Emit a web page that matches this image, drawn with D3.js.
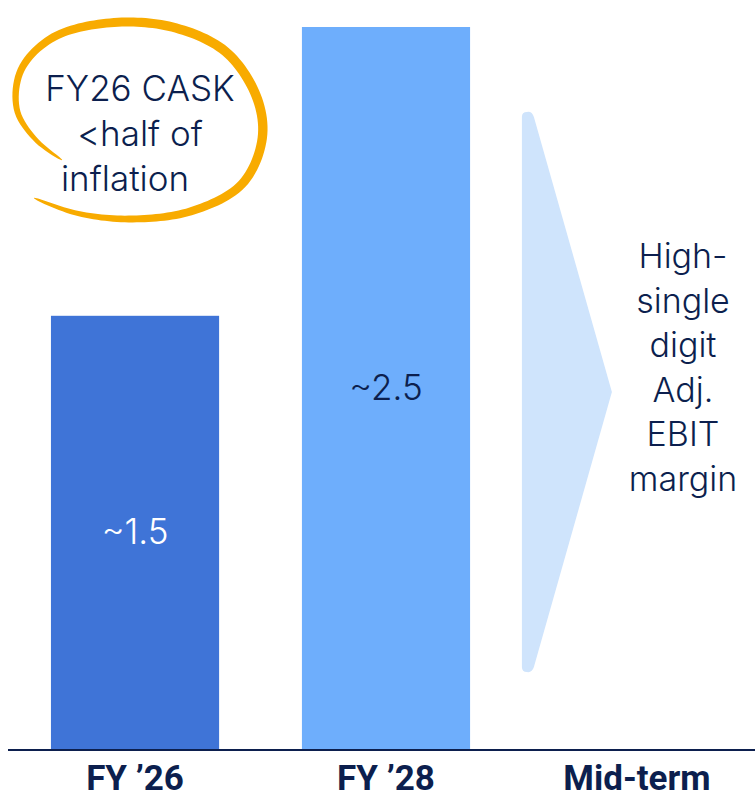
<!DOCTYPE html>
<html>
<head>
<meta charset="utf-8">
<script src="https://cdn.jsdelivr.net/npm/d3@7"></script>
<style>
  body { margin: 0; background: #fff; }
  svg { display: block; }
</style>
</head>
<body>
<svg id="chart" width="755" height="800"></svg>
<script>
// data
var categories = ["FY \u201926", "FY \u201928", "Mid-term"];
var barValues = [1.5, 2.5];
var barLabels = ["~1.5", "~2.5"];
var midTermText = ["High-", "single", "digit", "Adj.", "EBIT", "margin"];
var calloutText = ["FY26 CASK", "<half of", "inflation"];

var svg = d3.select("#chart"),
    baseY = 749;

var x = d3.scaleBand()
    .domain(categories)
    .range([0, 772])
    .paddingInner(0.33)
    .paddingOuter(0.203);

var y = d3.scaleLinear()
    .domain([0, 2.5])
    .range([baseY, 27]);

var barColors = ["#3f74d7", "#6eaefc"];
var labelColors = ["#ffffff", "#0c1f4e"];
var navy = "#0c1f4e";

/* bars */
svg.append("g")
  .selectAll("rect")
  .data(barValues)
  .enter().append("rect")
    .attr("x", function(d, i) { return x(categories[i]); })
    .attr("y", function(d) { return y(d); })
    .attr("width", x.bandwidth())
    .attr("height", function(d) { return baseY - y(d); })
    .attr("fill", function(d, i) { return barColors[i]; });

/* value labels in the bars */
svg.append("g")
  .selectAll("text")
  .data(barValues)
  .enter().append("text")
    .attr("x", function(d, i) { return x(categories[i]) + x.bandwidth() / 2; })
    .attr("y", function(d) { return (y(d) + baseY) / 2 + 12; })
    .attr("text-anchor", "middle")
    .attr("font-family", "Inter, 'Open Sans', sans-serif")
    .attr("font-weight", 300)
    .attr("font-size", 35)
    .attr("fill", function(d, i) { return labelColors[i]; })
    .text(function(d, i) { return barLabels[i]; });

/* mid-term arrow */
var mx = x("Mid-term"),
    aTop = 112, aBot = 672, aMid = (aTop + aBot) / 2,
    aL = mx - 31, aTip = mx + 59;
var r = 5;
var arrowPath = "M" + (aL + r) + "," + aTop +
  " Q" + (aL + 10) + "," + (aTop - 1) + " " + (aL + 12) + "," + (aTop + 5) +
  " L" + aTip + "," + aMid +
  " L" + (aL + 12) + "," + (aBot - 5) +
  " Q" + (aL + 10) + "," + (aBot + 1) + " " + (aL + r) + "," + aBot +
  " Q" + aL + "," + aBot + " " + aL + "," + (aBot - r) +
  " L" + aL + "," + (aTop + r) +
  " Q" + aL + "," + aTop + " " + (aL + r) + "," + aTop + "Z";
svg.append("path")
    .attr("d", arrowPath)
    .attr("fill", "#cfe4fc");

svg.append("g")
  .selectAll("text")
  .data(midTermText)
  .enter().append("text")
    .attr("x", 683)
    .attr("y", function(d, i) { return 268 + i * 44.6; })
    .attr("text-anchor", "middle")
    .attr("font-family", "Inter, 'Open Sans', sans-serif")
    .attr("font-weight", 300)
    .attr("font-size", 34)
    .attr("fill", navy)
    .text(function(d) { return d; });

/* baseline + category labels */
svg.append("line")
    .attr("x1", 8).attr("x2", 755)
    .attr("y1", baseY + 1).attr("y2", baseY + 1)
    .attr("stroke", navy)
    .attr("stroke-width", 2);

svg.append("g")
  .selectAll("text")
  .data(categories)
  .enter().append("text")
    .attr("x", function(d) { return x(d) + x.bandwidth() / 2; })
    .attr("y", 790)
    .attr("text-anchor", "middle")
    .attr("font-family", "Roboto, 'Liberation Sans', sans-serif")
    .attr("font-weight", 700)
    .attr("font-size", 35)
    .attr("fill", navy)
    .text(function(d) { return d; });

/* hand drawn callout circle, built as a filled stroke with tapered ends */
var loopPts = [[62,160],[36,140],[17,110],[21,70],[52,38],[108,23],[172,27],[226,52],
               [257,98],[262,140],[242,184],[192,211],[130,219],[76,213],[34,198]];
var tmp = svg.append("path")
    .attr("d", d3.line().curve(d3.curveCatmullRom.alpha(0.5))(loopPts))
    .attr("fill", "none");
var node = tmp.node(), len = node.getTotalLength(), N = 180,
    left = [], right = [];
for (var k = 0; k <= N; k++) {
  var t = k / N,
      p0 = node.getPointAtLength(Math.max(0, t * len - 0.5)),
      p1 = node.getPointAtLength(Math.min(len, t * len + 0.5)),
      p = node.getPointAtLength(t * len),
      dx = p1.x - p0.x, dy = p1.y - p0.y, dl = Math.sqrt(dx * dx + dy * dy) || 1,
      w = 4.4 * Math.pow(Math.sin(Math.PI * t), 0.45) + 0.4;
  left.push([p.x - dy / dl * w, p.y + dx / dl * w]);
  right.push([p.x + dy / dl * w, p.y - dx / dl * w]);
}
tmp.remove();
svg.append("path")
    .attr("d", d3.line()(left.concat(right.reverse())) + "Z")
    .attr("fill", "#f8ab00");

svg.append("g")
  .selectAll("text")
  .data(calloutText)
  .enter().append("text")
    .attr("x", function(d, i) { return i === 2 ? 125 : 140; })
    .attr("y", function(d, i) { return 101 + i * 45; })
    .attr("text-anchor", "middle")
    .attr("font-family", "Inter, 'Open Sans', sans-serif")
    .attr("font-weight", 300)
    .attr("font-size", 35)
    .attr("fill", navy)
    .text(function(d) { return d; });
</script>
</body>
</html>
